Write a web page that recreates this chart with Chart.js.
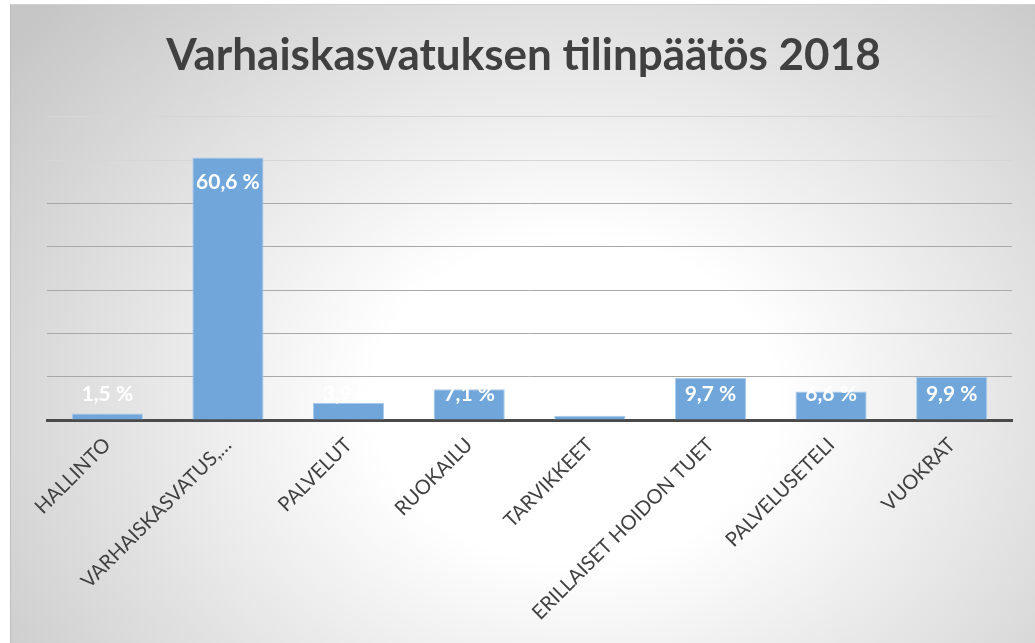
<!DOCTYPE html>
<html>
<head>
<meta charset="utf-8">
<script src="https://cdn.jsdelivr.net/npm/chart.js@4.4.1/dist/chart.umd.min.js"></script>
<style>
  body { margin: 0; background: #fff; }
  #wrap {
    position: absolute; left: 10px; top: 4px; width: 1025px; height: 639px;
    background: radial-gradient(ellipse 70% 90% at 55% 62%, #ffffff 0%, #ffffff 28%, #c6c6c6 100%);
    border-left: 1px solid #bdbdbd; border-top: 1px solid #d0d0d0;
    box-sizing: border-box;
  }
</style>
</head>
<body>
<div id="wrap"><canvas id="chart1"></canvas></div>
<script>
const labels1 = ["HALLINTO", "VARHAISKASVATUS,…", "PALVELUT", "RUOKAILU", "TARVIKKEET", "ERILLAISET HOIDON TUET", "PALVELUSETELI", "VUOKRAT"];
const values1 = [1.5, 60.6, 3.9, 7.1, 1.0, 9.7, 6.6, 9.9];
const yTicks1 = [0, 10, 20, 30, 40, 50, 60, 70];

const barLabels = {
  id: "barLabels",
  afterDatasetsDraw(chart) {
    const ctx = chart.ctx;
    const meta = chart.getDatasetMeta(0);
    const base = chart.scales.y.getPixelForValue(0);
    ctx.save();
    ctx.fillStyle = "#ffffff";
    ctx.font = "bold 21px Lato";
    ctx.textAlign = "center";
    ctx.textBaseline = "middle";
    meta.data.forEach((bar, i) => {
      const y = Math.min(bar.y + 25, base - 26);
      const txt = values1[i].toFixed(1).replace(".", ",") + " %";
      ctx.fillText(txt, bar.x, y);
    });
    ctx.restore();
  }
};

const data1 = {
  labels: labels1,
  datasets: [
    {
      data: values1,
      backgroundColor: "#70a6da",
      borderColor: "#a9cbeb",
      borderWidth: 1,
      barPercentage: 0.59,
      categoryPercentage: 1,
    },
  ],
};

const config1 = {
  type: "bar",
  data: data1,
  options: {
    responsive: false,
    animation: false,
    layout: { padding: 0 },
    plugins: {
      legend: { display: false },
      tooltip: { enabled: false },
      title: {
        display: true,
        text: "Varhaiskasvatuksen tilinpäätös 2018",
        color: "#404040",
        font: { family: "Lato", size: 44, weight: "bold", lineHeight: 1.2 },
        padding: { top: 24, bottom: 35 },
      },
    },
    scales: {
      x: {
        grid: { display: false },
        border: { color: "#4a4a4a", width: 3 },
        ticks: {
          color: "#404040",
          font: { family: "Lato", size: 20 },
          minRotation: 45,
          maxRotation: 45,
          padding: 5,
          autoSkip: false,
        },
        afterFit(scale) { scale.height = 224; },
      },
      y: {
        min: 0,
        max: 70,
        afterBuildTicks(scale) { scale.ticks = yTicks1.map((v) => ({ value: v })); },
        ticks: { display: false },
        border: { display: false },
        grid: {
          drawTicks: false,
          lineWidth: 1,
          color: (c) => (c.tick && c.tick.value >= 60 ? "#d6d6d6" : "#a8a8a8"),
        },
        afterFit(scale) { scale.width = 36; },
      },
      yRight: {
        position: "right",
        min: 0,
        max: 70,
        ticks: { display: false },
        border: { display: false },
        grid: { display: false, drawTicks: false },
        afterFit(scale) { scale.width = 24; },
      },
    },
  },
};

const cv = document.getElementById("chart1");
cv.width = 1025;
cv.height = 639;
const myChart1 = new Chart(cv, { ...config1, plugins: [barLabels] });
</script>
</body>
</html>
